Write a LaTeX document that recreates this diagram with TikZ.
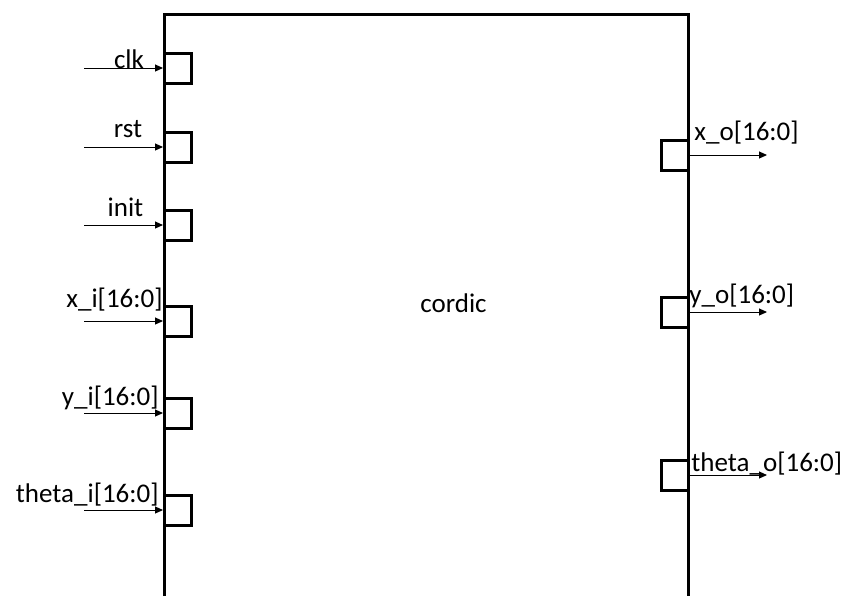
\documentclass[tikz,border=0pt]{standalone}
\usepackage{fontspec}
\setmainfont{Carlito}
\usetikzlibrary{arrows.meta}

\tikzset{
  port/.style={draw,line width=1.5pt,minimum width=13.5pt,minimum height=15pt,inner sep=0pt},
  sig/.style={line width=0.5pt,-{Triangle[length=4pt,width=3.5pt]}},
  lbl/.style={inner sep=0pt,font=\fontsize{13.5}{16}\selectfont}
}

\begin{document}
\begin{tikzpicture}[x=0.5pt,y=-0.5pt]
            \useasboundingbox (0,0) rectangle (849,596);
            % module outline, open at the bottom
            \coordinate (bl) at (164,596);
            \coordinate (br) at (688,596);
            \draw[line width=1.5pt] (bl) -- (164,14) -- (688,14) -- (br);
            \node[lbl,anchor=base] (core) at (453.5,312) {cordic};
            % inputs
            \foreach \name/\txt/\y/\lx/\ly/\anc in {clk/clk/68/129/68/base, rst/rst/147/128/137/base,
                    init/init/225/125.5/216/base, xi/x\_i[16:0]/321/163/307/base east,
                    yi/y\_i[16:0]/413/159/405/base east, thi/theta\_i[16:0]/510/159/502/base east} {
                    \node[port] (\name) at (178,\y) {};
                    \coordinate (\name-in) at (84,\y);
                    \draw[sig] (\name-in) -- (\name.west);
                    \node[lbl,anchor=\anc] (\name-lbl) at (\lx,\ly) {\txt};
                }
            % outputs
            \foreach \name/\txt/\y/\lx/\ly in {xo/x\_o[16:0]/155/694/140, yo/y\_o[16:0]/312/689/303,
                    tho/theta\_o[16:0]/475/691/471} {
                    \node[port] (\name) at (674.5,\y) {};
                    \coordinate (\name-out) at (767,\y);
                    \draw[sig] (\name.east) -- (\name-out);
                    \node[lbl,anchor=base west] (\name-lbl) at (\lx,\ly) {\txt};
                }
        \end{tikzpicture}
\end{document}
